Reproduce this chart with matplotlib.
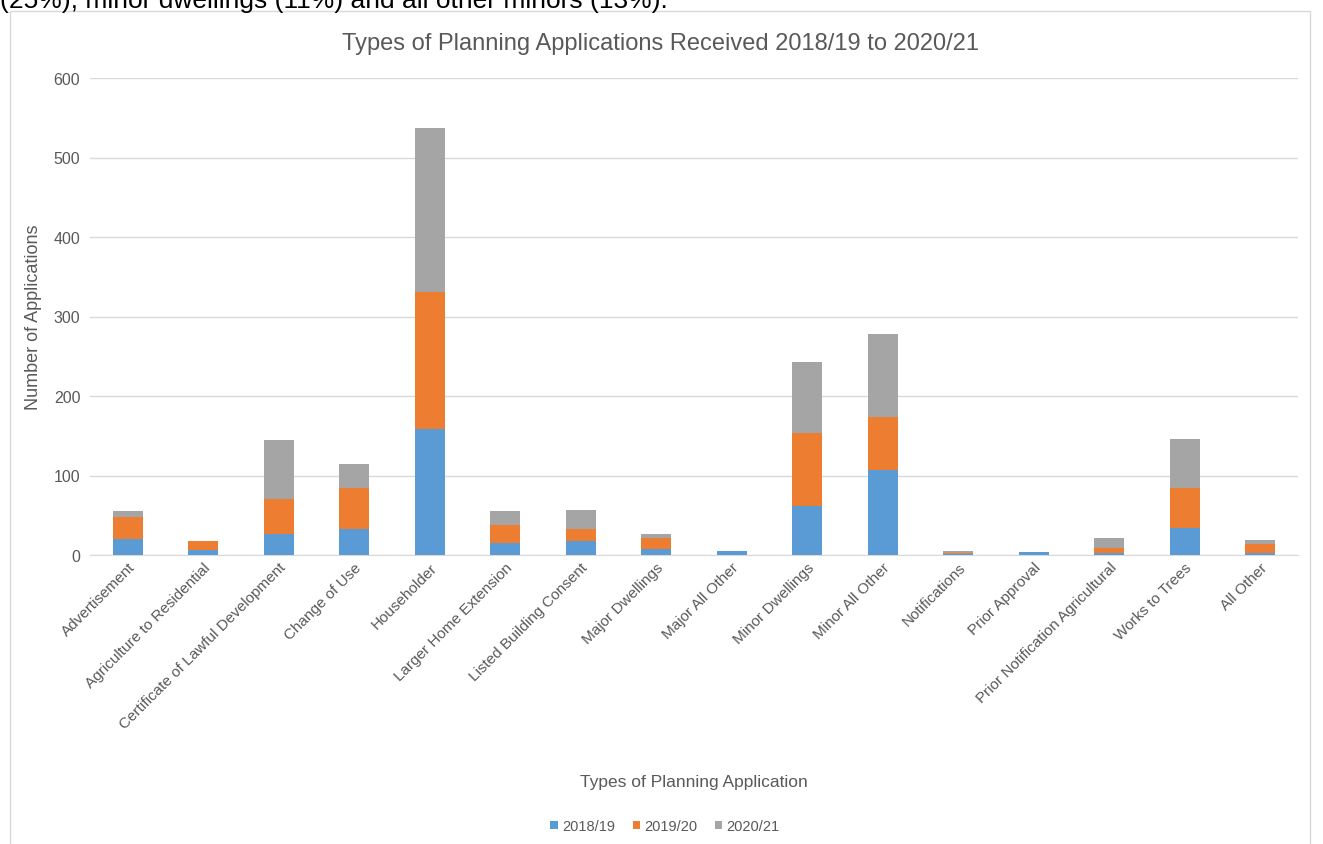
import numpy as np
import matplotlib.pyplot as plt
from matplotlib.patches import Rectangle

# Categorías y valores por año
categories = ['Advertisement', 'Agriculture to Residential', 'Certificate of Lawful Development',
              'Change of Use', 'Householder', 'Larger Home Extension', 'Listed Building Consent',
              'Major Dwellings', 'Major All Other', 'Minor Dwellings', 'Minor All Other',
              'Notifications', 'Prior Approval', 'Prior Notification Agricultural',
              'Works to Trees', 'All Other']
y2018 = [20, 6, 27, 33, 158, 15, 17, 7, 5, 62, 107, 1, 4, 2, 34, 3]
y2019 = [28, 11, 44, 51, 173, 23, 16, 14, 0, 92, 66, 2, 0, 7, 50, 11]
y2020 = [7, 1, 74, 30, 206, 17, 24, 6, 0, 89, 105, 2, 0, 13, 62, 5]
series_names = ['2018/19', '2019/20', '2020/21']
colors = ['#5B9BD5', '#ED7D31', '#A5A5A5']

plt.rcParams['font.family'] = ['Liberation Sans', 'DejaVu Sans']
txt = '#595959'

fig = plt.figure(figsize=(13.23, 8.45), dpi=100)

# Texto cortado en la parte superior y marco del gráfico
fig.text(0.0, 1 - 8 / 845, '(25%), minor dwellings (11%) and all other minors (13%).',
         fontsize=19, color='black', va='baseline', ha='left')
fig.patches.append(Rectangle((10 / 1323, -0.01), 1300 / 1323, 1 - 12 / 845 + 0.01,
                             transform=fig.transFigure, fill=False,
                             edgecolor='#D9D9D9', linewidth=1))

ax = fig.add_axes([90 / 1323, 1 - 556 / 845, 1208 / 1323, 477 / 845])

x = np.arange(len(categories))
b1 = np.array(y2018)
b2 = b1 + np.array(y2019)
ax.bar(x, y2018, width=0.4, color=colors[0], label=series_names[0], zorder=3)
ax.bar(x, y2019, width=0.4, bottom=b1, color=colors[1], label=series_names[1], zorder=3)
ax.bar(x, y2020, width=0.4, bottom=b2, color=colors[2], label=series_names[2], zorder=3)

ax.set_xlim(-0.5, len(categories) - 0.5)
ax.set_ylim(0, 600)
ax.set_yticks(range(0, 601, 100))
ax.grid(axis='y', color='#D9D9D9', linewidth=1, zorder=0)
for s in ['top', 'right', 'left']:
    ax.spines[s].set_visible(False)
ax.spines['bottom'].set_color('#D9D9D9')
ax.tick_params(length=0, colors=txt)
ax.tick_params(axis='y', pad=7, labelsize=11.5)

ax.set_xticks(x)
ax.set_xticklabels(categories, rotation=45, ha='right', rotation_mode='anchor', fontsize=11)

# Título centrado en el marco del gráfico
fig.text(660 / 1323, 1 - 44 / 845, 'Types of Planning Applications Received 2018/19 to 2020/21',
         fontsize=17, color=txt, ha='center', va='center')
ax.set_ylabel('Number of Applications', fontsize=13, color=txt)
ax.yaxis.set_label_coords(-0.040, 0.5)
ax.set_xlabel('Types of Planning Application', fontsize=12.5, color=txt)
ax.xaxis.set_label_coords(0.5, -0.46)

fig.legend(loc='center', bbox_to_anchor=(665 / 1323, 1 - 827 / 845), ncol=3, frameon=False,
           fontsize=10.5, handlelength=0.5, handleheight=0.5, handletextpad=0.3,
           columnspacing=1.2, labelcolor=txt)

fig.savefig('out.png', dpi=100)
